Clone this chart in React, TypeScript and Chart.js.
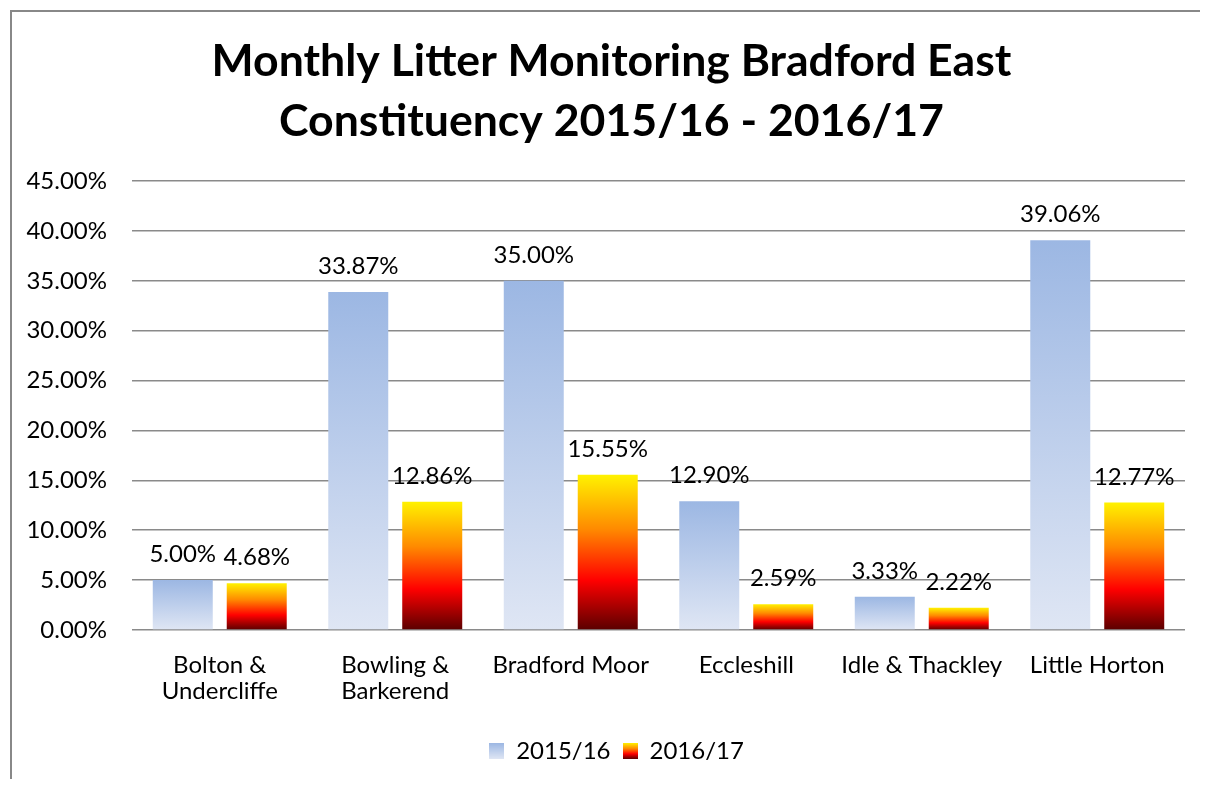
import React, { useEffect, useRef } from "react";
import { Chart, registerables } from "chart.js";

Chart.register(...registerables);

const categories: (string | string[])[] = [
  ["Bolton &", "Undercliffe"],
  ["Bowling &", "Barkerend"],
  "Bradford Moor",
  "Eccleshill",
  "Idle & Thackley",
  "Little Horton",
];
const series2015 = [5.0, 33.87, 35.0, 12.9, 3.33, 39.06];
const series2016 = [4.68, 12.86, 15.55, 2.59, 2.22, 12.77];
const seriesNames = ["2015/16", "2016/17"];
const titleLines = ["Monthly Litter Monitoring Bradford East", "Constituency 2015/16 - 2016/17"];
const yMin = 0;
const yMax = 45;
const yStep = 5;

const FONT = "Lato, 'Open Sans', sans-serif";

type Stop = [number, string];
const blueStops: Stop[] = [
  [0, "#9cb7e3"],
  [1, "#dfe6f4"],
];
const fireStops: Stop[] = [
  [0, "#fff200"],
  [0.35, "#ff8a00"],
  [0.68, "#ff0000"],
  [1, "#5a0000"],
];

function makeBg(stops: Stop[]) {
  return (ctx: any) => {
    const chart = ctx.chart;
    if (!chart.chartArea || ctx.type !== "data") return stops[0][1];
    const y = chart.scales.y;
    const top = y.getPixelForValue(ctx.raw);
    const base = y.getPixelForValue(0);
    const g = chart.ctx.createLinearGradient(0, top, 0, base);
    stops.forEach(([o, c]) => g.addColorStop(o, c));
    return g;
  };
}

function swatch(stops: Stop[]) {
  const c = document.createElement("canvas");
  c.width = 15;
  c.height = 16;
  const cx = c.getContext("2d")!;
  const g = cx.createLinearGradient(0, 0, 0, 16);
  stops.forEach(([o, col]) => g.addColorStop(o, col));
  cx.fillStyle = g;
  cx.fillRect(0, 0, 15, 16);
  return c;
}

const frame = {
  id: "frame",
  beforeDraw(chart: any) {
    const ctx = chart.ctx;
    ctx.save();
    ctx.strokeStyle = "#888";
    ctx.lineWidth = 2;
    ctx.beginPath();
    ctx.moveTo(3, chart.height);
    ctx.lineTo(3, 3);
    ctx.lineTo(chart.width, 3);
    ctx.stroke();
    ctx.restore();
  },
};

// shift title and legend blocks horizontally to match the original's centring
const shiftBlocks = {
  id: "shiftBlocks",
  afterLayout(chart: any) {
    const t = chart.titleBlock;
    if (t) {
      t.left += 15;
      t.right += 15;
    }
    const l = chart.legend;
    if (l) {
      l.left += 20;
      l.right += 20;
    }
  },
};

const valueLabels = {
  id: "valueLabels",
  afterDatasetsDraw(chart: any) {
    const ctx = chart.ctx;
    ctx.save();
    ctx.font = `24px ${FONT}`;
    ctx.fillStyle = "#000";
    ctx.textAlign = "center";
    ctx.textBaseline = "alphabetic";
    chart.data.datasets.forEach((ds: any, di: number) => {
      const meta = chart.getDatasetMeta(di);
      meta.data.forEach((el: any, i: number) => {
        ctx.fillText(ds.data[i].toFixed(2) + "%", el.x, el.y - 18);
      });
    });
    ctx.restore();
  },
};

export default function App() {
  const ref = useRef<HTMLCanvasElement>(null);
  useEffect(() => {
    const swatches = [swatch(blueStops), swatch(fireStops)];
    const chart = new Chart(ref.current!, {
      type: "bar",
      data: {
        labels: categories as any,
        datasets: [
          {
            label: seriesNames[0],
            data: series2015,
            backgroundColor: makeBg(blueStops) as any,
            categoryPercentage: 0.843,
            barPercentage: 0.811,
          },
          {
            label: seriesNames[1],
            data: series2016,
            backgroundColor: makeBg(fireStops) as any,
            categoryPercentage: 0.843,
            barPercentage: 0.811,
          },
        ],
      },
      options: {
        animation: false,
        responsive: false,
        maintainAspectRatio: false,
        layout: { padding: { left: 0, right: 23, top: 0, bottom: 6 } },
        plugins: {
          tooltip: { enabled: false },
          title: {
            display: true,
            text: titleLines,
            color: "#000",
            font: { family: FONT, size: 44.6, weight: "bold", lineHeight: "60px" as any },
            padding: { top: 24, bottom: 29 },
          },
          legend: {
            position: "bottom",
            labels: {
              color: "#000",
              font: { family: FONT, size: 24 },
              usePointStyle: true,
              boxWidth: 15,
              boxHeight: 16,
              pointStyleWidth: 15,
              padding: 12,
              generateLabels: () =>
                seriesNames.map((n, i) => ({
                  text: n,
                  pointStyle: swatches[i] as any,
                  fillStyle: "transparent",
                  strokeStyle: "transparent",
                  lineWidth: 0,
                  datasetIndex: i,
                  hidden: false,
                })),
            },
          },
        },
        scales: {
          x: {
            grid: { display: false },
            border: { display: false },
            ticks: {
              color: "#000",
              font: { family: FONT, size: 24, lineHeight: "26px" as any },
              padding: 14,
              maxRotation: 0,
              autoSkip: false,
            },
            afterFit: (s: any) => {
              s.height = 97;
            },
          },
          y: {
            min: yMin,
            max: yMax,
            grid: { color: "#8a8a8a", lineWidth: 1.5, drawTicks: false },
            border: { display: false },
            ticks: {
              stepSize: yStep,
              color: "#000",
              font: { family: FONT, size: 24 },
              padding: 25,
              callback: (v: any) => Number(v).toFixed(2) + "%",
            },
            afterFit: (s: any) => {
              s.width = 124;
            },
          },
        },
      },
      plugins: [frame, shiftBlocks, valueLabels],
    });
    return () => chart.destroy();
  }, []);

  return (
    <div style={{ position: "relative", width: 1200, height: 771, overflow: "hidden" }}>
      <canvas ref={ref} width={1200} height={771} style={{ position: "absolute", left: 0, top: 0 }} />
    </div>
  );
}
